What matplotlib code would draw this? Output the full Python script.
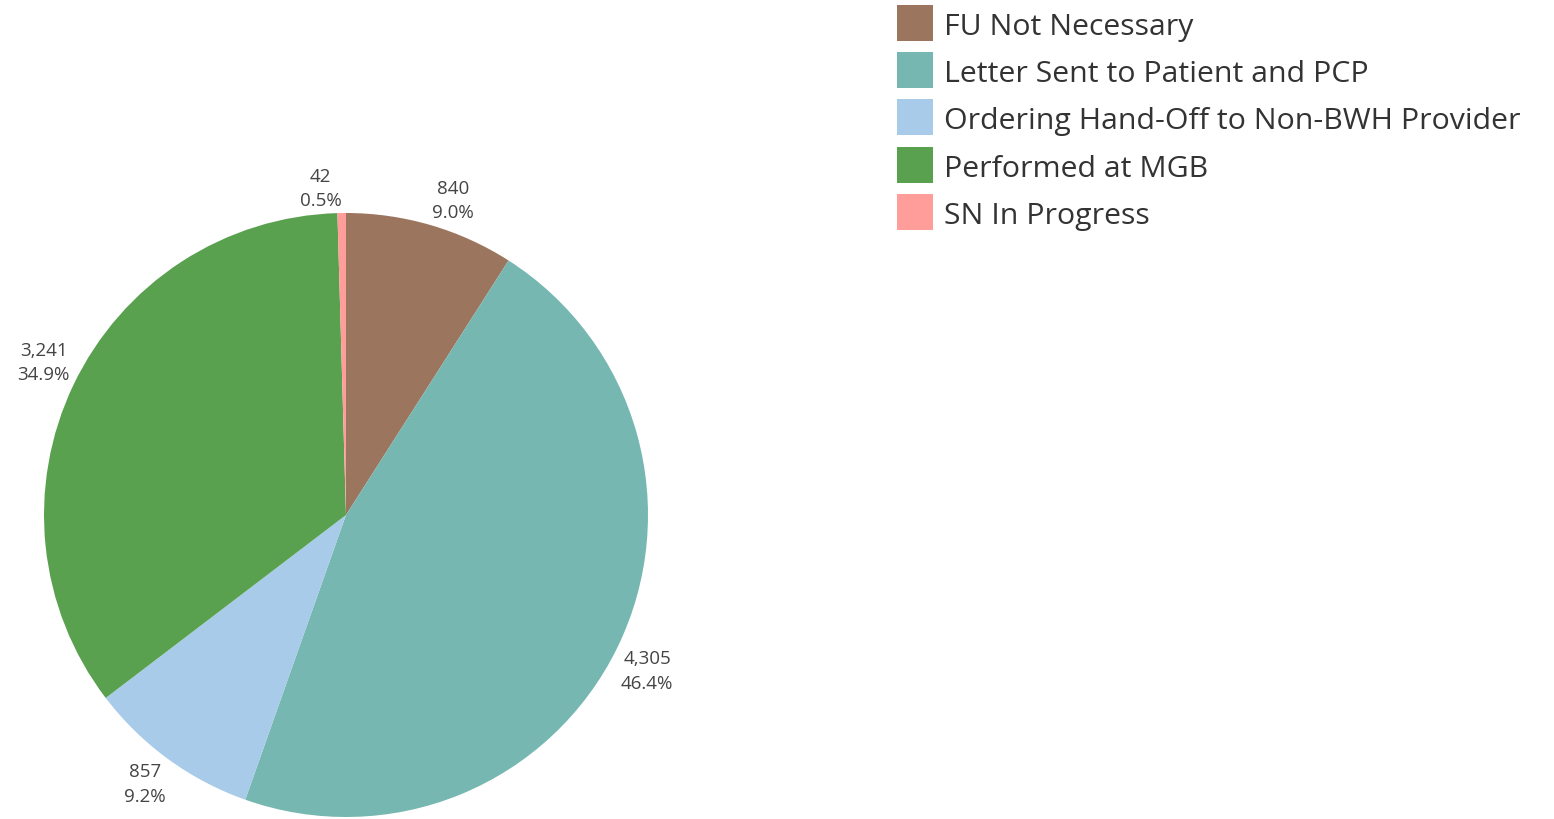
import matplotlib.pyplot as plt
from matplotlib.patches import Rectangle
import numpy as np

categories = ['FU Not Necessary', 'Letter Sent to Patient and PCP',
              'Ordering Hand-Off to Non-BWH Provider', 'Performed at MGB',
              'SN In Progress']
counts = [840, 4305, 857, 3241, 42]
colors = ['#9C755F', '#76B7B2', '#A7CBE8', '#59A14F', '#FF9D9A']

plt.rcParams['font.family'] = ['Open Sans', 'DejaVu Sans']

W, H = 1554, 820
fig = plt.figure(figsize=(W / 100, H / 100), dpi=100)
ax = fig.add_axes([0, 0, 1, 1])

cx, cy, r = 346, 820 - 516, 302
wedges, _ = ax.pie(counts, colors=colors, startangle=90, counterclock=False,
                   center=(cx, cy), radius=r, frame=True,
                   wedgeprops=dict(linewidth=0))
ax.set_xlim(0, W)
ax.set_ylim(0, H)
ax.set_aspect('equal')
ax.axis('off')

# labels: corner of the text sits just outside the pie edge
total = sum(counts)
for w, n in zip(wedges, counts):
    mid = np.deg2rad((w.theta1 + w.theta2) / 2)
    x = cx + (r + 4) * np.cos(mid)
    y = cy + (r + 4) * np.sin(mid)
    ha = 'left' if np.cos(mid) > 0.01 else 'right'
    va = 'bottom' if np.sin(mid) > 0 else 'top'
    ax.text(x, y, f'{n:,}\n{n / total * 100:.1f}%', ha=ha, va=va,
            fontsize=13.5, color='#444444', linespacing=1.45, multialignment='center')

# legend
for i, (cat, c) in enumerate(zip(categories, colors)):
    yc = 820 - (24 + i * 47.2)
    ax.add_patch(Rectangle((897, yc - 18), 36, 36, facecolor=c, edgecolor='none'))
    ax.text(944, yc, cat, ha='left', va='center_baseline', fontsize=21.8, color='#333333')

fig.savefig('out.png', dpi=100)
